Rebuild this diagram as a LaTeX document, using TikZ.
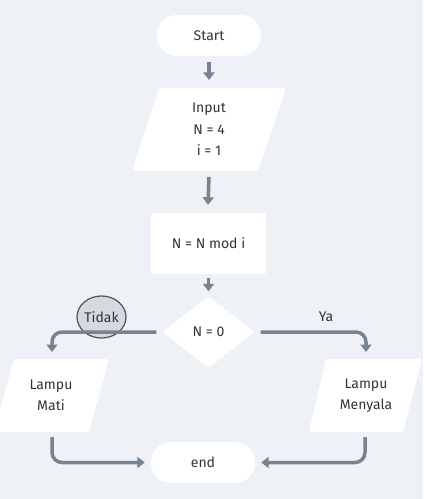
\documentclass[tikz,border=0pt]{standalone}
\usepackage{fontspec}
\setmainfont{Fira Sans}
\usetikzlibrary{shapes.geometric,arrows.meta,calc}
\definecolor{bg}{HTML}{EEF1F5}
\definecolor{arr}{HTML}{77838F}
\definecolor{txt}{HTML}{2E353F}
\definecolor{tagfill}{HTML}{D6DADF}
\definecolor{tagline}{HTML}{4A5462}
\tikzset{
  base/.style={text=txt, font=\fontsize{14bp}{21.5bp}\selectfont, align=center, inner sep=0pt},
  terminal/.style={base, fill=white, rectangle, rounded corners=20bp, minimum width=104bp, minimum height=41bp},
  procbox/.style={base, fill=white, rectangle, rounded corners=2bp, minimum width=115bp, minimum height=61bp},
  decision/.style={base, fill=white, diamond, rounded corners=2bp, minimum width=92bp, minimum height=72bp, aspect=1.28},
  iofill/.style={fill=white, rounded corners=2.5bp},
  label/.style={base},
  tag/.style={base, ellipse, fill=tagfill, draw=tagline, line width=1.2bp, minimum width=49bp, minimum height=42bp},
  flow/.style={draw=arr, line width=3.5bp, rounded corners=10bp, -{Triangle[width=11bp,length=7.5bp]}},
}
\begin{document}
\begin{tikzpicture}[x=1bp,y=-1bp]
\useasboundingbox (0,0) rectangle (423,499);
\fill[bg] (0,0) rectangle (423,499);

% shapes
\node[terminal] (start) at (209,35.5) {Start};
\fill[iofill] (159,88) -- (286,88) -- (258,171) -- (132,171) -- cycle;
\node[label] (input) at (209,129.5) {Input\\N = 4\\i = 1};
\coordinate (inputtop) at (209,88);
\coordinate (inputbot) at (209,171);
\node[procbox] (proc) at (208.5,243.5) {N = N mod i};
\node[decision] (dec) at (208.5,332) {N = 0};
\fill[iofill] (14,359) -- (109,359) -- (89,432) -- (-6,432) -- cycle;
\node[label] (mati) at (51,395.5) {Lampu\\Mati};
\coordinate (matibot) at (52,432);
\fill[iofill] (326,359) -- (422,359) -- (403,432) -- (309,432) -- cycle;
\node[label] (nyala) at (366,395.5) {Lampu\\Menyala};
\coordinate (nyalabot) at (365,432);
\node[terminal] (end) at (203,462.5) {end};

% labels
\node[tag] (tidak) at (101.5,317) {Tidak};
\node[label] (ya) at (326,317) {Ya};

% connectors
\draw[flow] ($(start.south)+(0,6)$) -- ($(inputtop)+(0,-8)$);
\draw[flow] ($(inputbot)+(0,6)$) -- ($(proc.north)+(-0.5,-8)$);
\draw[flow] ($(proc.south)+(0,4)$) -- ($(dec.north)+(0,-4.5)$);
\draw[flow] ($(dec.west)+(-6,0)$) -| ($(matibot)+(0,-80)$);
\draw[flow] ($(dec.east)+(6,0)$) -| ($(nyalabot)+(1,-80)$);
\draw[flow] ($(matibot)+(0,5)$) |- ($(end.west)+(-6,0)$);
\draw[flow] ($(nyalabot)+(0,5)$) |- ($(end.east)+(6,0)$);
\end{tikzpicture}
\end{document}
